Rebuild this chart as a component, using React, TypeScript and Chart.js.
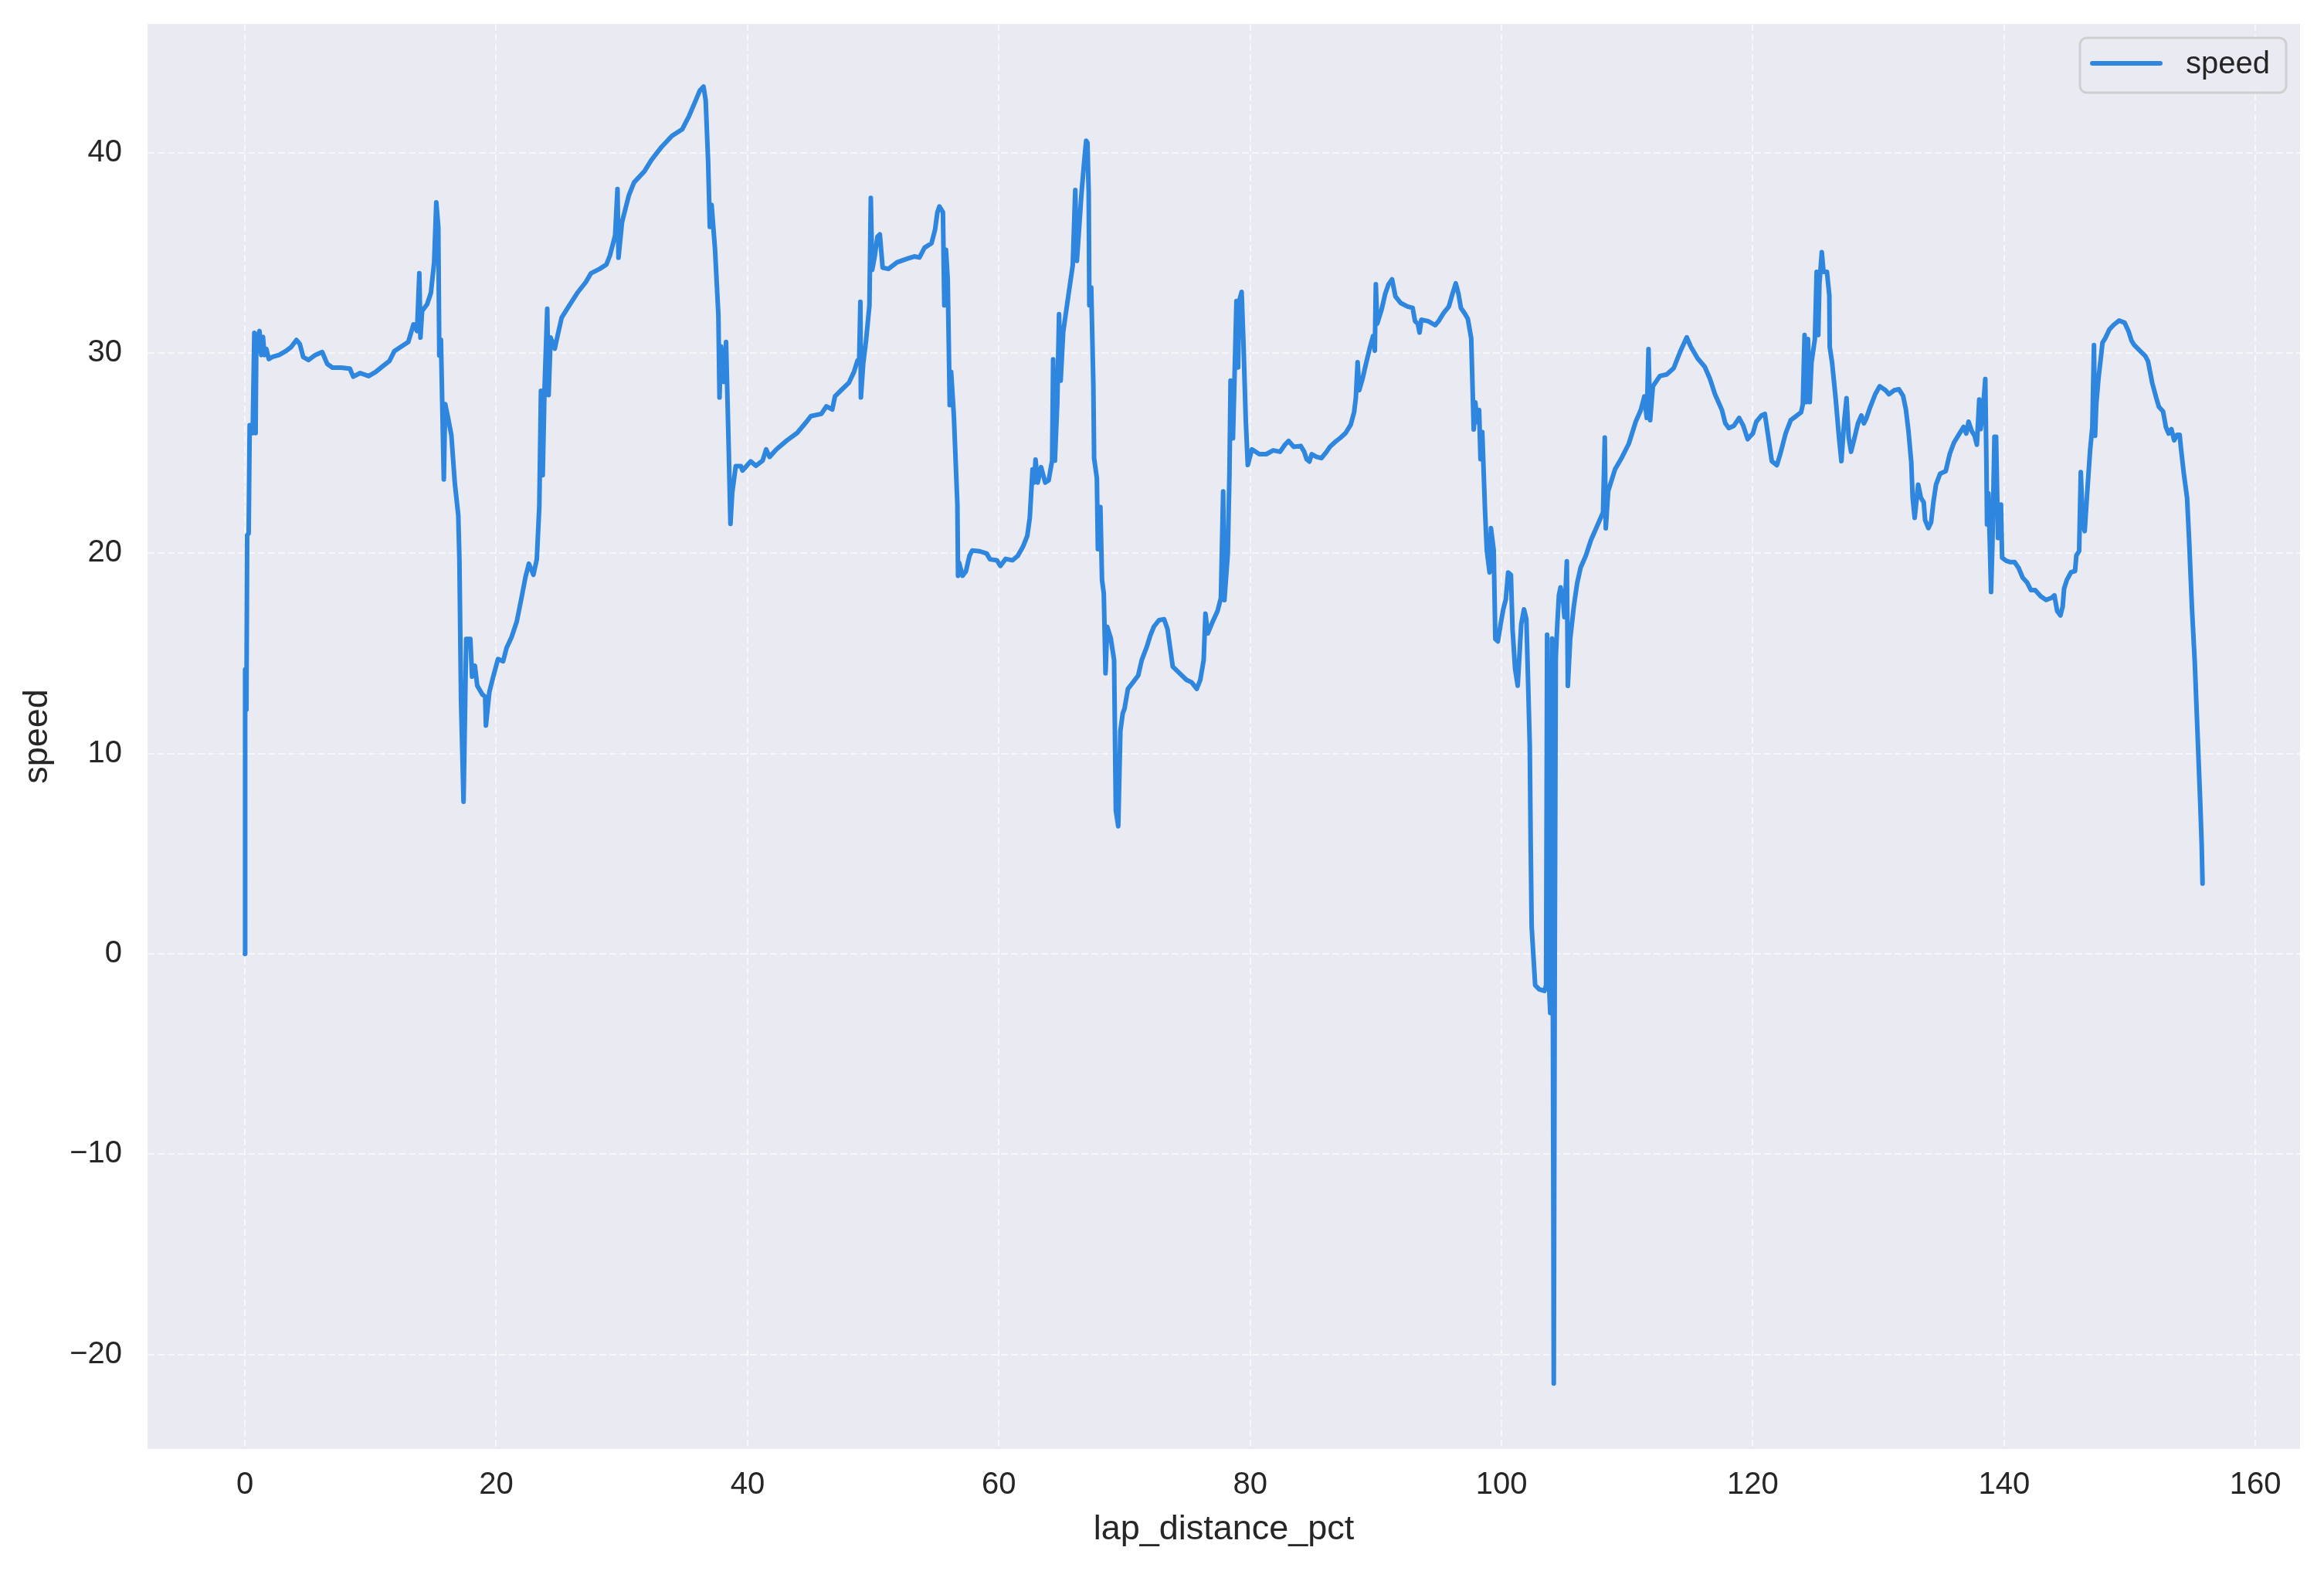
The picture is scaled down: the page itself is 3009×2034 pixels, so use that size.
import { useEffect, useRef } from "react";
import { Chart, registerables } from "chart.js";

Chart.register(...registerables);

const FONT = "'Liberation Sans', Arial, Helvetica, sans-serif";
const TEXT_COLOR = "#262626";
const LINE_COLOR = "#2E86DE";

const seriesLabel = "speed";
const xLabel = "lap_distance_pct";
const yLabel = "speed";

const xTicks = [0, 20, 40, 60, 80, 100, 120, 140, 160];
const yTicks = [-20, -10, 0, 10, 20, 30, 40];

// segment 1: 0 - 40
const lapDistanceA = [
  0, 0.02, 0.12, 0.18, 0.3, 0.38, 0.52, 0.62, 0.75, 0.85, 0.9, 1.02, 1.16, 1.3, 1.44, 1.55, 1.71, 1.9, 2.18, 2.72,
  3.27, 3.68, 4.1, 4.37, 4.64, 5.06, 5.6, 6.15, 6.56, 6.97, 7.66, 8.35, 8.62, 9.17, 9.85, 10.4, 10.95, 11.5, 11.9, 12.46,
  13.0, 13.42, 13.7, 13.88, 13.97, 14.1, 14.5, 14.8, 15.06, 15.23, 15.39, 15.47, 15.6, 15.83, 15.94, 16.16, 16.43, 16.71, 16.98, 17.07,
  17.2, 17.4, 17.61, 17.94, 18.08, 18.3, 18.49, 18.9, 19.12, 19.18, 19.45, 19.73, 20.14, 20.55, 20.82, 21.23, 21.64, 22.06, 22.33, 22.6,
  22.96, 23.23, 23.43, 23.56, 23.7, 23.84, 24.06, 24.17, 24.33, 24.66, 24.93, 25.21, 25.76, 26.44, 27.13, 27.54, 28.23, 28.77, 29.05, 29.46,
  29.65, 29.73, 30.01, 30.55, 30.97, 31.79, 32.34, 33.16, 33.98, 34.81, 35.35, 35.8, 36.2, 36.5, 36.67, 36.86, 37.0, 37.14, 37.41, 37.68,
  37.77, 37.88, 38.1, 38.29, 38.51, 38.64, 38.78, 39.06, 39.47, 39.6,
];
const speedA = [
  0, 14.2, 12.2, 20.9, 21.0, 26.4, 26.3, 26.0, 31.0, 26.0, 29.9, 30.8, 31.1, 29.9, 30.8, 29.9, 30.2, 29.7, 29.8, 29.9,
  30.1, 30.3, 30.65, 30.45, 29.8, 29.65, 29.9, 30.05, 29.45, 29.27, 29.27, 29.22, 28.82, 29.0, 28.85, 29.05, 29.33, 29.6, 30.1, 30.33,
  30.55, 31.43, 31.1, 33.98, 30.77, 32.1, 32.43, 33.0, 34.53, 37.52, 36.3, 29.88, 30.66, 23.69, 27.45, 26.79, 25.9, 23.47, 21.9, 19.7,
  12.62, 7.6, 15.72, 15.72, 13.84, 14.39, 13.39, 12.95, 12.84, 11.4, 13.06, 13.77, 14.72, 14.61, 15.27, 15.83, 16.6, 17.93, 18.82, 19.48,
  18.93, 19.7, 22.36, 28.11, 23.9, 28.11, 32.21, 27.9, 30.77, 30.22, 31.0, 31.77, 32.32, 32.99, 33.54, 33.98, 34.2, 34.42, 34.87, 35.86,
  38.19, 34.76, 36.53, 37.86, 38.52, 39.07, 39.63, 40.29, 40.84, 41.18, 41.84, 42.5, 43.1, 43.3, 42.6, 39.63, 36.3, 37.4, 35.2, 31.88,
  27.78, 30.33, 28.56, 30.55, 25.02, 21.47, 23.02, 24.35, 24.35, 24.13,
];

// segment 2: 40 - 80
const lapDistanceB = [
  40.25, 40.66, 41.2, 41.48, 41.75, 42.3, 43.12, 43.95, 44.63, 45.04, 45.87, 46.28, 46.74, 46.96, 47.51, 48.06, 48.47, 48.75, 48.88, 48.98,
  49.02, 49.21, 49.43, 49.7, 49.81, 49.92, 50.12, 50.34, 50.53, 50.75, 51.21, 51.9, 52.72, 53.27, 53.68, 54.09, 54.64, 54.92, 55.11, 55.27,
  55.55, 55.66, 55.79, 55.93, 56.01, 56.09, 56.2, 56.42, 56.7, 56.75, 56.83, 57.11, 57.38, 57.66, 57.88, 58.48, 59.03, 59.3, 59.85, 60.12,
  60.54, 61.08, 61.5, 61.91, 62.26, 62.46, 62.68, 62.81, 62.92, 63.09, 63.36, 63.69, 63.96, 64.24, 64.32, 64.46, 64.65, 64.79, 64.92, 65.12,
  65.47, 65.88, 66.08, 66.21, 66.57, 66.84, 66.95, 67.05, 67.15, 67.2, 67.35, 67.52, 67.58, 67.8, 67.88, 68.08, 68.21, 68.35, 68.49, 68.62,
  68.9, 69.17, 69.31, 69.5, 69.67, 69.86, 70.0, 70.27, 70.68, 71.09, 71.37, 71.78, 72.05, 72.33, 72.74, 73.15, 73.42, 73.84, 74.38, 74.93,
  75.34, 75.75, 76.03, 76.3, 76.44, 76.63, 76.99, 77.4, 77.67, 77.85, 77.95, 78.22, 78.35, 78.44, 78.63, 78.91, 79.04, 79.13, 79.32, 79.46,
  79.65, 79.81, 80.14,
];
const speedB = [
  24.59, 24.37, 24.63, 25.19, 24.81, 25.19, 25.63, 26.01, 26.52, 26.85, 26.96, 27.34, 27.18, 27.84, 28.18, 28.51, 29.06, 29.62, 29.5, 32.56,
  27.78, 29.5, 30.61, 32.38, 37.74, 34.15, 34.82, 35.81, 35.92, 34.26, 34.2, 34.53, 34.71, 34.82, 34.77, 35.26, 35.48, 36.15, 37.03, 37.32,
  37.03, 32.38, 35.15, 33.71, 30.61, 27.4, 29.06, 26.85, 22.42, 18.88, 19.54, 18.88, 19.1, 19.87, 20.14, 20.1, 19.99, 19.7, 19.65, 19.37,
  19.72, 19.65, 19.87, 20.32, 20.87, 21.76, 24.19, 23.53, 24.68, 23.53, 24.3, 23.53, 23.64, 24.63, 29.68, 24.63, 27.51, 31.94, 28.62, 31.05,
  32.6, 34.38, 38.14, 34.6, 37.92, 39.91, 40.6, 40.5, 38.0, 32.38, 33.27, 28.4, 24.74, 23.75, 20.21, 22.31, 18.66, 18.0, 14.01, 16.33,
  15.78, 14.67, 7.15, 6.37, 11.13, 12.02, 12.24, 13.23, 13.56, 13.9, 14.67, 15.34, 15.89, 16.33, 16.66, 16.71, 16.22, 14.34, 14.01, 13.68,
  13.56, 13.23, 13.68, 14.67, 16.99, 16.0, 16.55, 17.11, 17.77, 23.09, 17.66, 19.99, 23.97, 28.62, 25.74, 32.6, 29.28, 32.6, 33.05, 30.61,
  26.63, 24.41, 25.19,
];

// segment 3: 80 - 102
const lapDistanceC = [
  80.73, 81.28, 81.83, 82.38, 82.79, 83.06, 83.47, 84.02, 84.3, 84.49, 84.71, 84.9, 85.26, 85.67, 86.08, 86.35, 86.76, 87.17, 87.59, 88.0,
  88.27, 88.41, 88.55, 88.68, 88.96, 89.23, 89.51, 89.78, 89.92, 90.0, 90.11, 90.47, 90.74, 91.01, 91.29, 91.56, 91.97, 92.52, 92.93, 93.12,
  93.34, 93.48, 93.62, 94.17, 94.72, 94.99, 95.4, 95.81, 96.09, 96.36, 96.58, 96.77, 97.05, 97.32, 97.59, 97.79, 97.92, 98.06, 98.22, 98.33,
  98.47, 98.69, 98.83, 99.05, 99.16, 99.38, 99.51, 99.71, 99.93, 100.14, 100.34, 100.53, 100.75, 100.88, 101.08, 101.29, 101.57, 101.79, 101.98, 102.12,
];
const speedC = [
  24.95, 24.95, 25.14, 25.07, 25.44, 25.61, 25.32, 25.36, 25.07, 24.7, 24.58, 24.95, 24.82, 24.75, 25.07, 25.32, 25.56, 25.76, 26.0, 26.42,
  27.04, 27.77, 29.54, 28.14, 28.76, 29.5, 30.23, 30.85, 30.11, 33.43, 31.46, 32.2, 32.94, 33.43, 33.68, 32.82, 32.5, 32.32, 32.25, 31.59,
  31.46, 31.02, 31.66, 31.59, 31.39, 31.59, 32.0, 32.32, 32.94, 33.48, 32.94, 32.25, 32.0, 31.71, 30.73, 26.18, 27.53, 26.55, 27.16, 24.7,
  26.05, 22.12, 20.15, 19.04, 21.26, 20.15, 15.72, 15.6, 16.46, 17.2, 17.69, 19.04, 18.92, 16.21, 14.25, 13.39, 16.46, 17.2, 16.71, 13.51,
];

// segment 4: 102 - 131
const lapDistanceD = [
  102.25, 102.32, 102.4, 102.51, 102.68, 103.0, 103.42, 103.55, 103.63, 103.77, 103.88, 104.02, 104.16, 104.24, 104.32, 104.43, 104.57, 104.7, 104.92, 105.01,
  105.2, 105.28, 105.47, 105.75, 106.02, 106.3, 106.71, 107.12, 107.67, 108.08, 108.22, 108.3, 108.49, 109.04, 109.59, 110.13, 110.68, 111.09, 111.37, 111.56,
  111.7, 111.83, 112.05, 112.6, 113.15, 113.7, 114.25, 114.74, 115.07, 115.62, 116.17, 116.58, 116.99, 117.54, 117.81, 118.09, 118.5, 118.91, 119.24, 119.59,
  120.0, 120.28, 120.69, 120.96, 121.24, 121.51, 121.92, 122.2, 122.61, 123.02, 123.43, 123.84, 123.98, 124.12, 124.25, 124.39, 124.53, 124.67, 124.94, 125.08,
  125.21, 125.3, 125.49, 125.63, 125.9, 126.09, 126.12, 126.31, 126.59, 126.86, 127.05, 127.27, 127.46, 127.63, 127.82, 128.1, 128.37, 128.64, 128.84, 129.05,
  129.33, 129.74, 130.1, 130.56, 130.84, 131.25,
];
const speedD = [
  10.4, 5.71, 1.38, 0.2, -1.57, -1.77, -1.85, -1.57, 15.94, -1.37, -2.95, 15.74, -21.45, 0.0, 14.76, 16.33, 17.91, 18.3, 17.52, 16.81,
  19.6, 13.38, 15.74, 17.32, 18.5, 19.29, 19.88, 20.66, 21.45, 22.04, 25.78, 21.25, 23.1, 24.2, 24.8, 25.47, 26.57, 27.16, 27.83, 26.76,
  30.19, 26.65, 28.34, 28.85, 28.93, 29.24, 30.11, 30.78, 30.31, 29.72, 29.32, 28.73, 27.94, 27.16, 26.49, 26.25, 26.37, 26.76, 26.37, 25.7,
  25.98, 26.57, 26.88, 26.96, 25.78, 24.6, 24.4, 24.99, 25.98, 26.65, 26.84, 27.04, 27.43, 30.9, 27.55, 30.7, 27.55, 29.52, 30.7, 34.05,
  30.9, 33.45, 35.03, 34.05, 34.05, 32.86, 30.31, 29.52, 27.75, 25.78, 24.6, 26.57, 27.75, 25.78, 25.07, 25.78, 26.49, 26.88, 26.49, 26.76,
  27.28, 27.94, 28.34, 28.14, 27.94, 28.14,
];

// segment 5: 131 - end
const lapDistanceE = [
  131.63, 131.96, 132.18, 132.39, 132.61, 132.72, 132.88, 133.16, 133.38, 133.6, 133.71, 133.97, 134.19, 134.37, 134.58, 134.91, 135.35, 135.68, 136.01, 136.34,
  136.77, 136.99, 137.17, 137.43, 137.65, 137.83, 138.02, 138.13, 138.31, 138.5, 138.59, 138.64, 138.75, 138.86, 138.96, 139.07, 139.23, 139.36, 139.51, 139.69,
  139.75, 139.84, 140.17, 140.5, 140.83, 141.15, 141.48, 141.81, 142.14, 142.47, 142.91, 143.34, 143.78, 144.0, 144.22, 144.48, 144.66, 144.77, 144.99, 145.32,
  145.64, 145.75, 145.97, 146.1, 146.26, 146.41, 146.63, 146.85, 147.02, 147.15, 147.24, 147.33, 147.51, 147.73, 147.83, 148.05, 148.38, 148.71, 149.15, 149.59,
  149.91, 150.13, 150.35, 150.79, 151.23, 151.45, 151.78, 152.11, 152.32, 152.65, 152.87, 153.09, 153.31, 153.53, 153.75, 153.97, 154.08, 154.3, 154.56, 154.73,
  154.95, 155.17, 155.39, 155.61, 155.72, 155.79,
];
const speedE = [
  28.19, 27.86, 27.19, 26.09, 24.54, 22.77, 21.77, 23.43, 22.77, 22.55, 21.66, 21.26, 21.55, 22.55, 23.43, 23.98, 24.1, 24.98, 25.53, 25.87,
  26.31, 25.98, 26.57, 26.09, 25.87, 25.42, 27.68, 26.2, 27.08, 28.7, 24.54, 21.44, 22.99, 20.55, 18.07, 20.55, 25.82, 25.82, 20.77, 20.77,
  22.43, 19.78, 19.62, 19.56, 19.56, 19.27, 18.78, 18.56, 18.16, 18.16, 17.85, 17.67, 17.78, 17.9, 17.12, 16.9, 17.34, 18.23, 18.67, 19.05,
  19.11, 19.89, 20.11, 24.05, 21.44, 21.11, 23.21, 25.2, 26.31, 30.4, 25.87, 27.42, 28.74, 29.96, 30.52, 30.74, 31.18, 31.4, 31.62, 31.51,
  31.07, 30.63, 30.4, 30.12, 29.85, 29.59, 28.52, 27.75, 27.31, 27.08, 26.31, 25.98, 26.2, 25.64, 25.91, 25.91, 25.2, 23.98, 22.77, 20.55,
  17.23, 14.58, 11.03, 7.49, 5.5, 3.51,
];

const lapDistancePct = [...lapDistanceA, ...lapDistanceB, ...lapDistanceC, ...lapDistanceD, ...lapDistanceE];
const speedValues = [...speedA, ...speedB, ...speedC, ...speedD, ...speedE];

const fmt = (v: number | string) => {
  const n = Number(v);
  return n < 0 ? "\u2212" + Math.abs(n) : String(n);
};

export default function App() {
  const ref = useRef<HTMLCanvasElement>(null);

  useEffect(() => {
    const canvas = ref.current;
    if (!canvas) return;

    const bgPlugin = {
      id: "bgPlugin",
      beforeDraw(chart: any) {
        const { ctx, chartArea } = chart;
        ctx.save();
        ctx.fillStyle = "#FFFFFF";
        ctx.fillRect(0, 0, chart.width, chart.height);
        ctx.fillStyle = "#EAEAF2";
        ctx.fillRect(chartArea.left, chartArea.top, chartArea.right - chartArea.left, chartArea.bottom - chartArea.top);
        ctx.restore();
      },
    };

    const legendPlugin = {
      id: "boxLegend",
      afterDraw(chart: any) {
        const { ctx, chartArea } = chart;
        const w = 267;
        const h = 71;
        const x = chartArea.right - 18 - w;
        const y = chartArea.top + 18;
        ctx.save();
        ctx.beginPath();
        ctx.roundRect(x, y, w, h, 9);
        ctx.fillStyle = "rgba(234,234,242,0.85)";
        ctx.fill();
        ctx.lineWidth = 3;
        ctx.strokeStyle = "#CFCFCF";
        ctx.stroke();
        ctx.beginPath();
        ctx.moveTo(x + 16, y + 33);
        ctx.lineTo(x + 104, y + 33);
        ctx.lineWidth = 6;
        ctx.lineCap = "round";
        ctx.strokeStyle = LINE_COLOR;
        ctx.stroke();
        ctx.fillStyle = TEXT_COLOR;
        ctx.font = `40px ${FONT}`;
        ctx.textBaseline = "alphabetic";
        ctx.textAlign = "left";
        ctx.fillText(seriesLabel, x + 137, y + 46);
        ctx.restore();
      },
    };

    const gridOpts = {
      color: "rgba(255,255,255,0.6)",
      lineWidth: 2,
      drawTicks: false,
    };

    const chart = new Chart(canvas, {
      type: "line",
      data: {
        datasets: [
          {
            label: seriesLabel,
            data: lapDistancePct.map((x, i) => ({ x, y: speedValues[i] })),
            borderColor: LINE_COLOR,
            backgroundColor: LINE_COLOR,
            borderWidth: 6,
            pointRadius: 0,
            tension: 0,
            fill: false,
            borderJoinStyle: "round",
            borderCapStyle: "round",
          },
        ],
      },
      options: {
        responsive: false,
        animation: false,
        devicePixelRatio: 1,
        layout: { padding: { top: 31, right: 31, left: 0, bottom: 0 } },
        plugins: {
          legend: { display: false },
          tooltip: { enabled: false },
        },
        scales: {
          x: {
            type: "linear",
            min: -7.75,
            max: 163.55,
            afterFit(scale: any) {
              scale.height = 158;
              scale.paddingLeft = 0;
              scale.paddingRight = 0;
            },
            afterBuildTicks(scale: any) {
              scale.ticks = xTicks.map((v) => ({ value: v }));
            },
            grid: gridOpts,
            border: { display: false, dash: [9, 4] },
            ticks: {
              padding: 23,
              color: TEXT_COLOR,
              font: { family: FONT, size: 40 },
              maxRotation: 0,
              callback: (v: any) => fmt(v),
            },
            title: {
              display: true,
              text: xLabel,
              color: TEXT_COLOR,
              font: { family: FONT, size: 45 },
              padding: { top: 0, bottom: 26 },
            },
          },
          y: {
            type: "linear",
            min: -24.72,
            max: 46.43,
            afterFit(scale: any) {
              scale.width = 191;
              scale.paddingTop = 0;
              scale.paddingBottom = 0;
            },
            afterBuildTicks(scale: any) {
              scale.ticks = yTicks.map((v) => ({ value: v }));
            },
            grid: gridOpts,
            border: { display: false, dash: [9, 4] },
            ticks: {
              padding: 33,
              color: TEXT_COLOR,
              font: { family: FONT, size: 40 },
              callback: (v: any) => fmt(v),
            },
            title: {
              display: true,
              text: yLabel,
              color: TEXT_COLOR,
              font: { family: FONT, size: 45 },
              padding: { top: 22, bottom: 0 },
            },
          },
        },
      },
      plugins: [bgPlugin, legendPlugin],
    } as any);

    return () => {
      chart.destroy();
    };
  }, []);

  return (
    <div style={{ position: "absolute", left: 0, top: 0, width: 3009, height: 2034, background: "#fff" }}>
      <canvas ref={ref} width={3009} height={2034} style={{ display: "block", width: 3009, height: 2034 }} />
    </div>
  );
}
